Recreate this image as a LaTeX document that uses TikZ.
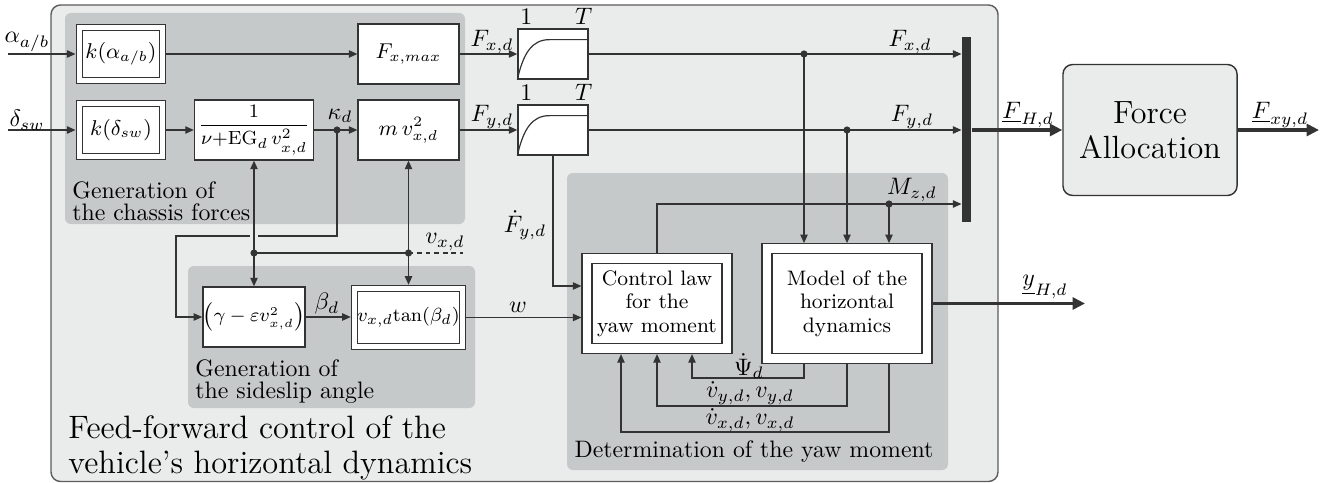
\documentclass[tikz,border=0pt]{standalone}
\usetikzlibrary{arrows.meta,calc}
\definecolor{outerc}{HTML}{EAEBEB}
\definecolor{grpc}{HTML}{C6C9CA}
\definecolor{lc}{HTML}{333333}
\definecolor{bordc}{HTML}{5C5C5C}
\begin{document}
\begin{tikzpicture}[x=0.42pt,y=-0.42pt,
  line/.style={draw=lc,line width=0.5pt},
  arr/.style={line,-{Triangle[length=3.6pt,width=3.1pt]}},
  thk/.style={draw=lc,line width=1.3pt,-{Triangle[length=5.2pt,width=5pt]}},
  blk/.style={draw=lc,fill=white,line width=0.55pt,inner sep=0pt,align=center},
  dblk/.style={blk,double=white,double distance=2pt,outer sep=1.55pt},
  dblkw/.style={blk,double=white,double distance=3.6pt,outer sep=2.35pt},
  dot/.style={circle,fill=lc,inner sep=0pt,minimum size=3pt},
  lbl/.style={inner sep=0pt},
  grp/.style={fill=grpc,rounded corners=2.5pt},
  gtext/.style={inner sep=0pt,align=left,font=\fontsize{10}{9.3}\selectfont},
]
\useasboundingbox (0,0) rectangle (1335,483);
% backgrounds
\filldraw[fill=outerc,draw=bordc,line width=0.6pt,rounded corners=4pt] (51,5) rectangle (998,481.5);
\fill[grp] (65,13) rectangle (465,224);
\fill[grp] (188,266) rectangle (475,408);
\fill[grp] (567,173) rectangle (948,470);

% blocks
\node[dblk,minimum width=35.1pt,minimum height=22.5pt,font=\fontsize{8.6}{10}\selectfont] (kA) at (121,54) {$k(\alpha_{a/b})$};
\node[dblk,minimum width=35.1pt,minimum height=22.5pt,font=\fontsize{8.6}{10}\selectfont] (kD) at (121,130) {$k(\delta_{sw})$};
\node[blk,minimum width=50pt,minimum height=25.2pt] (frac) at (254,130) {\fontsize{8.2}{9}\selectfont$\displaystyle\frac{1}{\nu{+}\mathrm{EG}_d\, v_{x,d}^2}$};
\node[blk,minimum width=42.4pt,minimum height=25.2pt,font=\fontsize{9.2}{11}\selectfont] (Fmax) at (408.5,54) {$F_{x,max}$};
\node[blk,minimum width=42.4pt,minimum height=25.2pt,font=\fontsize{9.2}{11}\selectfont] (mv) at (408.5,130) {$m\,v_{x,d}^2$};
\node[blk,minimum width=29.4pt,minimum height=21pt] (f1) at (553,54) {};
\node[blk,minimum width=29.4pt,minimum height=21pt] (f2) at (553,130) {};
\node[blk,minimum width=42pt,minimum height=25.2pt,font=\fontsize{7.7}{9}\selectfont] (gam) at (254,317) {$\left(\gamma-\varepsilon v_{x,d}^2\right)$};
\node[dblk,minimum width=45.4pt,minimum height=24.4pt,font=\fontsize{7.9}{9}\selectfont] (vtan) at (408.5,317.5) {$v_{x,d}\mathrm{tan}(\beta_d)$};
\node[dblkw,minimum width=58.8pt,minimum height=37.8pt,font=\fontsize{8.8}{9.9}\selectfont] (ctrl) at (657,303.5) {Control law\\for the\\yaw moment};
\node[dblkw,minimum width=67.2pt,minimum height=46pt,font=\fontsize{8.8}{9.9}\selectfont] (model) at (847,303.5) {Model of the\\horizontal\\dynamics};
\node[fill=lc,inner sep=0pt,minimum width=3.8pt,minimum height=77.7pt] (bar) at (966.5,129.5) {};
\node[draw=lc,fill=outerc,line width=0.6pt,rounded corners=4pt,minimum width=73.1pt,minimum height=55pt,align=center,font=\fontsize{13.5}{14.7}\selectfont] (FA) at (1150,130) {Force\\Allocation};

% filter curves
\begin{scope}[shift={(f1.south west)}]
  \draw[line] (0,0) .. controls (6,-27) and (15,-40) .. (32,-40) -- (70,-40);
\end{scope}
\begin{scope}[shift={(f2.south west)}]
  \draw[line] (0,0) .. controls (6,-27) and (15,-40) .. (32,-40) -- (70,-40);
\end{scope}
\node[lbl,anchor=south] at ($(f1.north west)+(9,-3)$) {$1$};
\node[lbl,anchor=south] at ($(f1.north east)+(-5,-3)$) {$T$};
\node[lbl,anchor=south] at ($(f2.north west)+(9,-3)$) {$1$};
\node[lbl,anchor=south] at ($(f2.north east)+(-5,-3)$) {$T$};

% coordinates
\coordinate (inA) at (8,54);
\coordinate (inD) at (8,130);
\coordinate (jR) at (258,236);
\coordinate (jL) at (250,236);
\coordinate (kc) at (176,236);
\coordinate (vin) at (463,253);
\coordinate (cF) at (0,286);
\coordinate (yA) at (0,378);
\coordinate (yB) at (0,406);
\coordinate (yC) at (0,432);
\coordinate (cA) at (692,0);
\coordinate (cC) at (621,0);
\coordinate (out1) at (1319,130);
\coordinate (out2) at (1085,303.5);

% connectors
\draw[arr] (inA) -- (kA.west);
\draw[arr] (inD) -- (kD.west);
\draw[arr] (kA.east) -- (Fmax.west);
\draw[arr] (kD.east) -- (frac.west);
\draw[line] (frac.east) -- (337,130) coordinate (kp);
\draw[arr] (kp) -- (mv.west);
\draw[arr] (Fmax.east) -- (f1.west);
\draw[arr] (mv.east) -- (f2.west);
\draw[arr] (f1.east) -- (f1.east -| bar.west);
\draw[arr] (f2.east) -- (f2.east -| bar.west);
\draw[arr] (ctrl.north) |- (0,204 -| bar.west);
\draw[arr] (804,54) -- (804,54 |- model.north);
\draw[arr] (847,130) -- (847,130 |- model.north);
\draw[arr] (889,204) -- (889,204 |- model.north);
\draw[thk] (bar.east |- FA.west) -- (FA.west);
\draw[thk] (FA.east) -- (out1);
\draw[thk] (model.east) -- (out2);
\draw[arr] (f2.south) |- (ctrl.west |- cF);
\draw[arr] (gam.east) -- (gam.east -| vtan.west);
\draw[arr] (vtan.east) -- (vtan.east -| ctrl.west);
\draw[line] (kp) |- (jR);
\draw[arr] (jL) -- (kc) |- (gam.west);
\draw[arr] (254,253) -- (frac.south);
\draw[arr] (254,253) -- (gam.north);
\draw[line] (254,253) -- (408.5,253);
\draw[arr] (408.5,253) -- (mv.south);
\draw[arr] (408.5,253) -- (vtan.north);
\draw[line,dash pattern=on 2pt off 1.6pt] (408.5,253) -- (vin);
\draw[arr] (model.south -| 804,0) -- (804,0 |- yA) -| (ctrl.south -| cA);
\draw[arr] (model.south -| 847,0) -- (847,0 |- yB) -| (ctrl.south);
\draw[arr] (model.south -| 889,0) -- (889,0 |- yC) -| (ctrl.south -| cC);

% dots
\node[dot] (dK) at (337,130) {};
\node[dot] (dFx) at (804,54) {};
\node[dot] (dFy) at (847,130) {};
\node[dot] (dMz) at (889,204) {};
\node[dot] (dV1) at (254,253) {};
\node[dot] (dV2) at (408.5,253) {};

% labels
\node[lbl] at (27,42) {$\alpha_{a/b}$};
\node[lbl] at (27,120) {$\delta_{sw}$};
\node[lbl] at (340,116) {$\kappa_d$};
\node[lbl] at (492,42) {$F_{x,d}$};
\node[lbl] at (492,117) {$F_{y,d}$};
\node[lbl] at (910,42) {$F_{x,d}$};
\node[lbl] at (912,117) {$F_{y,d}$};
\node[lbl] at (912,190) {$M_{z,d}$};
\node[lbl] at (1028,115) {$\underline{F}_{H,d}$};
\node[lbl] at (1280,115) {$\underline{F}_{xy,d}$};
\node[lbl] at (1045,287) {$\underline{y}_{H,d}$};
\node[lbl] at (525,225) {$\dot{F}_{y,d}$};
\node[lbl] at (518,307) {$w$};
\node[lbl] at (327,304) {$\beta_d$};
\node[lbl] at (445,242) {$v_{x,d}$};
\node[lbl] at (749,366) {$\dot{\Psi}_d$};
\node[lbl] at (750,393) {$\dot{v}_{y,d},v_{y,d}$};
\node[lbl] at (750,420) {$\dot{v}_{x,d},v_{x,d}$};

% group captions
\node[gtext,anchor=north west] at (72,181) {Generation of\\the chassis forces};
\node[gtext,anchor=north west] at (195,359) {Generation of\\the sideslip angle};
\node[inner sep=0pt,align=left,anchor=north west,font=\fontsize{13.6}{14.7}\selectfont] at (68,415) {Feed-forward control of the\\vehicle's horizontal dynamics};
\node[lbl] at (754,452) {Determination of the yaw moment};
\end{tikzpicture}
\end{document}
